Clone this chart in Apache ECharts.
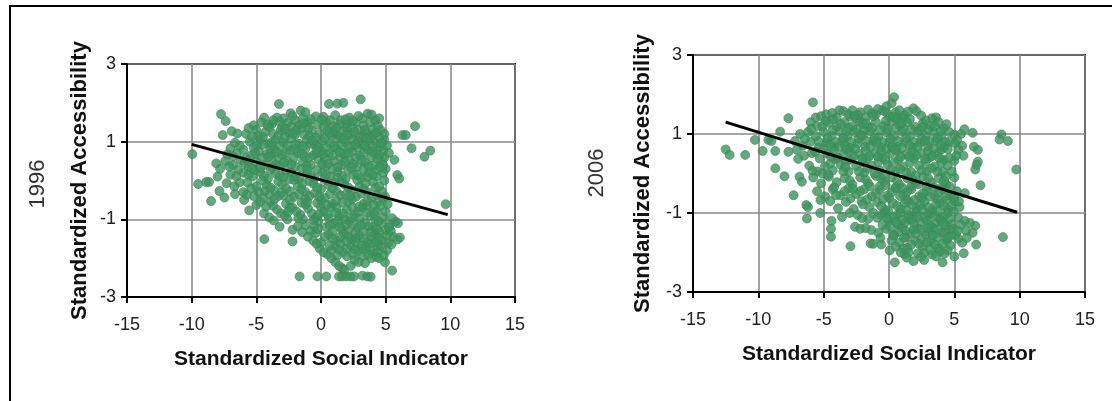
<!DOCTYPE html>
<html>
<head>
<meta charset="utf-8">
<script src="https://cdn.jsdelivr.net/npm/echarts@6/dist/echarts.min.js"></script>
<style>
html,body{margin:0;padding:0;background:#fff;}
#c{width:1112px;height:401px;}
</style>
</head>
<body>
<div id="c"></div>
<script>
// ---- data ----
const xTicks = [-15, -10, -5, 0, 5, 10, 15];
const yTicks = [-3, -1, 1, 3];
const xName = 'Standardized Social Indicator';
const yName = 'Standardized Accessibility';
const yearLabels = ['1996', '2006'];

const fit1996 = [[-10, 0.93], [9.8, -0.88]];
const fit2006 = [[-12.5, 1.3], [9.8, -0.98]];

const pts1996 = [
[-3.25,1.97],[0.62,1.97],[1.26,1.98],[1.73,2.0],[3.07,2.09],
[-7.73,1.71],[-1.57,1.8],[-1.2,1.76],[-2.35,1.73],[3.6,1.72],[3.9,1.7],[-0.4,1.65],[1.1,1.68],[2.2,1.62],[-4.4,1.62],[-2.9,1.6],
[-7.37,1.53],[-4.6,1.5],[-3.8,1.45],[-3.2,1.52],[-2.6,1.48],[-2.0,1.55],[-1.7,1.42],[-1.0,1.5],[-0.3,1.44],[0.4,1.5],[0.9,1.4],[1.5,1.55],[2.0,1.45],[2.7,1.5],[3.3,1.42],[3.8,1.5],[4.2,1.55],[4.4,1.4],[-5.2,1.42],[-2.3,1.4],
[-7.6,1.17],[-6.9,1.27],[-6.47,1.21],[-5.8,1.2],[-5.0,1.3],[-4.3,1.25],[-3.7,1.2],[-3.1,1.3],[-2.5,1.22],[-1.9,1.3],[-1.3,1.18],[-0.7,1.28],[-0.1,1.2],[0.5,1.3],[1.1,1.2],[1.7,1.28],[2.3,1.18],[2.9,1.3],[3.5,1.22],[4.1,1.18],[4.6,1.3],[6.3,1.17],[6.55,1.17],[7.27,1.4],[-4.0,1.38],[-1.0,1.35],[2.0,1.35],[3.0,1.12],
[-5.5,1.0],[-4.7,1.05],[-4.1,0.95],[-3.5,1.05],[-2.9,0.98],[-2.3,1.08],[-1.7,0.95],[-1.1,1.05],[-0.5,0.92],[0.1,1.02],[0.7,0.95],[1.3,1.08],[1.9,0.97],[2.5,1.05],[3.1,0.93],[3.7,1.03],[4.3,0.95],[4.9,1.05],
[-9.95,0.68],[-7.0,0.83],[-6.5,0.7],[-6.0,0.79],[-5.4,0.65],[-4.8,0.75],[-4.2,0.68],[-3.6,0.8],[-3.0,0.66],[-2.4,0.78],[-1.8,0.7],[-1.2,0.82],[-0.6,0.65],[0.0,0.77],[0.6,0.7],[1.2,0.83],[1.8,0.68],[2.4,0.76],[3.0,0.64],[3.6,0.8],[4.2,0.7],[4.8,0.78],[7.0,0.83],[8.0,0.61],[8.45,0.77],[5.67,0.53],
[-8.1,0.44],[-7.4,0.5],[-6.8,0.4],[-6.2,0.52],[-5.6,0.35],[-5.0,0.48],[-4.4,0.4],[-3.8,0.52],[-3.2,0.38],[-2.6,0.5],[-2.0,0.36],[-1.4,0.48],[-0.8,0.4],[-0.2,0.53],[0.4,0.37],[1.0,0.5],[1.6,0.4],[2.2,0.52],[2.8,0.35],[3.4,0.47],[4.0,0.38],[4.6,0.5],[5.0,0.3],
[-9.5,-0.09],[-8.87,-0.04],[-8.66,-0.04],[-7.3,-0.07],[-6.3,-0.05],[-7.0,0.15],[-6.0,0.2],[-5.3,0.1],[-4.7,0.22],[-4.1,0.05],[-3.5,0.18],[-2.9,0.08],[-2.3,0.2],[-1.7,0.03],[-1.1,0.16],[-0.5,0.06],[0.1,0.2],[0.7,0.1],[1.3,0.22],[1.9,0.04],[2.5,0.15],[3.1,0.07],[3.7,0.2],[4.3,0.1],[4.8,0.2],[5.9,0.14],[6.05,0.05],
[-7.47,-0.44],[-6.65,-0.35],[-5.95,-0.5],[-5.4,-0.2],[-4.8,-0.3],[-4.2,-0.12],[-3.6,-0.25],[-3.0,-0.1],[-2.4,-0.28],[-1.8,-0.15],[-1.2,-0.3],[-0.6,-0.08],[0.0,-0.22],[0.6,-0.12],[1.2,-0.28],[1.8,-0.1],[2.4,-0.25],[3.0,-0.15],[3.6,-0.3],[4.2,-0.18],[4.7,-0.28],
[-8.5,-0.53],[-5.0,-0.63],[-4.5,-0.45],[-3.9,-0.55],[-3.3,-0.4],[-2.7,-0.6],[-2.1,-0.42],[-1.5,-0.57],[-0.9,-0.4],[-0.3,-0.58],[0.3,-0.45],[0.9,-0.6],[1.5,-0.38],[2.1,-0.55],[2.7,-0.42],[3.3,-0.6],[3.9,-0.45],[4.4,-0.55],[9.64,-0.61],
[-4.4,-0.85],[-4.0,-0.95],[-3.4,-0.75],[-2.8,-0.9],[-2.2,-0.7],[-1.6,-0.88],[-1.0,-0.72],[-0.4,-0.95],[0.2,-0.8],[0.8,-0.68],[1.4,-0.92],[2.0,-0.75],[2.6,-0.88],[3.2,-0.7],[3.8,-0.9],[4.3,-0.78],[4.8,-0.95],[5.5,-0.97],
[-3.2,-1.19],[-0.2,-1.05],[0.4,-1.2],[1.0,-1.1],[1.6,-1.25],[2.2,-1.05],[2.8,-1.22],[3.4,-1.08],[4.0,-1.2],[4.6,-1.1],[5.0,-1.28],[5.78,-1.06],[5.95,-1.1],[-1.2,-1.15],[-0.8,-1.3],[-2.2,-1.27],
[-4.38,-1.51],[-2.2,-1.57],[-1.0,-1.45],[0.0,-1.6],[0.6,-1.4],[1.2,-1.55],[1.8,-1.38],[2.4,-1.52],[3.0,-1.42],[3.6,-1.58],[4.2,-1.4],[4.7,-1.55],[5.6,-1.45],[5.9,-1.52],[6.1,-1.47],
[-0.1,-1.75],[0.5,-1.9],[1.1,-1.7],[1.7,-1.85],[2.3,-1.68],[2.9,-1.82],[3.5,-1.72],[4.1,-1.88],[4.6,-1.7],[5.1,-1.8],
[0.8,-2.0],[1.4,-2.2],[1.65,-2.26],[1.8,-2.3],[3.4,-2.13],[4.95,-2.11],[5.5,-2.32],[2.6,-2.05],[3.9,-2.0],
[-1.65,-2.47],[-0.28,-2.47],[0.41,-2.47],[1.39,-2.47],[1.65,-2.47],[1.96,-2.47],[2.29,-2.47],[2.55,-2.47],[3.2,-2.45],[3.58,-2.47],[3.84,-2.48],
[-3.4,1.62],[-2.2,1.66],[-0.8,1.58],[0.2,1.64],[1.4,1.45],[2.4,1.38],[3.2,1.6],[4.0,1.32],
[-4.5,1.12],[-3.3,1.15],[-2.0,1.18],[-0.4,1.1],[0.8,1.15],[2.6,1.25],[3.8,1.1],[4.5,1.12],
[-5.2,0.85],[-3.9,0.85],[-2.6,0.9],[-1.4,0.88],[-0.2,0.85],[1.0,0.88],[2.2,0.86],[3.4,0.88],[4.6,0.88],
[-5.8,0.58],[-4.5,0.58],[-3.3,0.6],[-2.1,0.58],[-0.9,0.6],[0.3,0.58],[1.5,0.6],[2.7,0.58],[3.9,0.6],[4.9,0.6],
[-7.8,0.3],[-6.4,0.28],[-5.1,0.27],[-3.9,0.28],[-2.7,0.26],[-1.5,0.3],[-0.3,0.28],[0.9,0.3],[2.1,0.27],[3.3,0.3],[4.4,0.28],
[-6.7,-0.15],[-5.7,-0.05],[-4.5,0.0],[-3.3,-0.02],[-2.1,0.02],[-0.9,-0.02],[0.4,0.0],[1.6,-0.02],[2.8,0.01],[4.0,-0.03],[4.9,0.0],
[-5.2,-0.4],[-4.0,-0.35],[-2.9,-0.38],[-1.7,-0.35],[-0.5,-0.33],[0.7,-0.35],[1.9,-0.36],[3.1,-0.34],[4.3,-0.37],
[-3.7,-0.65],[-2.4,-0.7],[-1.2,-0.62],[0.0,-0.68],[1.2,-0.7],[2.4,-0.68],[3.6,-0.66],[4.6,-0.65],
[-2.6,-1.0],[-1.4,-1.0],[-0.6,-1.02],[0.6,-0.98],[1.8,-1.0],[3.0,-0.98],[4.2,-1.0],[5.3,-1.15],
[-0.4,-1.35],[0.9,-1.32],[2.1,-1.3],[3.3,-1.3],[4.5,-1.33],[5.1,-1.42],
[1.5,-1.62],[2.7,-1.6],[3.9,-1.62],[4.4,-1.68],
[2.0,-1.95],[3.2,-1.95],[4.3,-1.97],
[-3.7,1.55],[-1.4,1.6],[0.7,1.55],[1.9,1.58],[2.9,1.66],[4.5,1.6],
[-3.0,1.38],[-1.5,1.35],[0.2,1.38],[1.2,1.35],[3.4,1.3],[-5.6,1.35],
[-4.9,1.15],[-2.8,1.12],[-0.9,1.15],[0.3,1.1],[1.5,1.12],[2.0,1.18],[3.3,1.12],[4.9,1.2],
[-6.3,0.9],[-4.5,0.92],[-3.2,0.88],[-2.0,0.82],[-0.8,0.95],[0.4,0.85],[1.6,0.9],[2.8,0.85],[4.0,0.86],[5.1,0.9],
[-6.8,0.62],[-5.1,0.7],[-3.9,0.7],[-2.7,0.72],[-1.5,0.68],[-0.3,0.72],[0.9,0.65],[2.1,0.72],[3.3,0.7],[4.5,0.65],
[-7.1,0.36],[-5.9,0.45],[-4.7,0.33],[-3.5,0.4],[-2.3,0.42],[-1.1,0.38],[0.1,0.42],[1.3,0.35],[2.5,0.42],[3.7,0.36],[4.8,0.4],
[-8.0,0.1],[-5.6,0.15],[-4.4,0.12],[-3.2,0.12],[-2.0,0.1],[-0.8,0.12],[0.4,0.15],[1.6,0.12],[2.8,0.15],[4.0,0.14],
[-6.0,-0.3],[-5.0,-0.15],[-3.9,-0.18],[-2.7,-0.2],[-1.5,-0.22],[-0.3,-0.18],[0.9,-0.2],[2.1,-0.18],[3.3,-0.22],[4.5,-0.15],
[-4.7,-0.55],[-3.6,-0.48],[-2.4,-0.5],[-1.2,-0.48],[0.0,-0.5],[1.2,-0.52],[2.4,-0.48],[3.6,-0.52],[4.8,-0.45],
[-3.1,-0.85],[-1.9,-0.8],[-0.7,-0.85],[0.5,-0.88],[1.7,-0.85],[2.9,-0.8],[4.1,-0.85],[5.0,-0.8],
[-1.8,-1.18],[-0.5,-1.18],[0.7,-1.15],[1.3,-1.05],[1.9,-1.15],[2.5,-1.12],[3.1,-1.15],[3.7,-1.18],[4.3,-1.25],[5.4,-1.3],
[-0.6,-1.55],[0.3,-1.45],[0.9,-1.5],[1.5,-1.45],[2.1,-1.45],[2.7,-1.48],[3.3,-1.5],[3.9,-1.45],[4.5,-1.48],[5.2,-1.6],
[0.2,-1.85],[0.8,-1.78],[1.4,-1.78],[2.0,-1.75],[2.6,-1.78],[3.2,-1.75],[3.8,-1.8],[4.4,-1.85],
[1.1,-2.1],[2.3,-2.2],[2.9,-2.1],[4.5,-2.0],
[-4.15,1.43],[-2.75,1.33],[-1.35,1.47],[0.05,1.57],[0.95,1.27],[2.45,1.53],[3.55,1.08],[4.25,1.23],
[-5.35,1.13],[-3.85,0.97],[-2.15,1.21],[-0.65,1.03],[0.65,1.21],[1.75,1.07],[2.85,1.01],[4.65,0.97],
[-6.65,0.97],[-4.95,0.91],[-3.45,0.73],[-1.95,0.93],[-0.35,0.79],[1.45,0.73],[2.65,0.93],[3.95,0.75],[5.25,0.71],
[-7.25,0.67],[-5.65,0.51],[-4.05,0.61],[-2.85,0.47],[-1.25,0.61],[0.15,0.67],[1.85,0.49],[3.15,0.53],[4.35,0.57],
[-6.55,0.11],[-5.35,0.31],[-3.75,0.33],[-2.45,0.03],[-1.05,0.27],[0.55,0.43],[1.25,0.07],[2.35,0.33],[3.55,0.09],[4.55,0.35],
[-7.85,-0.27],[-5.75,-0.37],[-4.35,-0.27],[-3.05,-0.31],[-1.45,-0.07],[-0.15,-0.41],[1.05,-0.05],[2.25,-0.39],[3.45,-0.07],[4.95,-0.41],
[-5.55,-0.77],[-4.25,-0.67],[-2.55,-0.81],[-1.05,-0.55],[0.45,-0.63],[1.65,-0.57],[2.95,-0.67],[4.05,-0.63],[5.15,-0.61],
[-3.65,-1.03],[-1.75,-0.97],[-0.15,-0.87],[1.15,-0.83],[2.35,-0.95],[3.55,-0.83],[4.45,-1.05],
[-1.45,-1.33],[-0.25,-1.25],[1.45,-1.19],[2.65,-1.35],[3.85,-1.33],[5.25,-1.21],
[-0.35,-1.63],[0.65,-1.67],[1.95,-1.57],[3.15,-1.67],[4.25,-1.59],[5.45,-1.65],
[1.25,-1.93],[2.45,-1.89],[3.65,-1.91],[4.85,-1.93]
];

const pts2006 = [
[0.38,1.93],[0.2,1.78],[-0.2,1.7],[-5.82,1.8],[1.87,1.65],[2.1,1.58],
[-3.5,1.58],[-2.8,1.6],[-2.2,1.55],[-1.6,1.62],[-1.0,1.5],[-0.5,1.6],[0.5,1.55],[1.2,1.48],[-3.0,1.45],[-4.0,1.42],[-7.7,1.4],[-5.6,1.42],[3.3,1.4],[3.6,1.42],[-1.8,1.42],[0.0,1.45],
[-6.0,1.3],[-5.5,1.2],[-4.6,1.28],[-4.0,1.18],[-3.4,1.3],[-2.8,1.2],[-2.2,1.32],[-1.6,1.18],[-1.0,1.3],[-0.4,1.2],[0.2,1.32],[0.8,1.22],[1.4,1.3],[2.0,1.18],[2.6,1.28],[3.2,1.2],[3.8,1.3],[4.2,1.15],[-4.3,1.38],[-2.5,1.4],[1.0,1.4],
[-8.33,1.06],[-6.8,1.0],[-6.2,1.05],[-5.6,0.95],[-5.0,1.05],[-4.4,0.95],[-3.8,1.06],[-3.2,0.94],[-2.6,1.04],[-2.0,0.96],[-1.4,1.06],[-0.8,0.92],[-0.2,1.04],[0.4,0.95],[1.0,1.06],[1.6,0.94],[2.2,1.04],[2.8,0.95],[3.4,1.05],[4.0,0.95],[4.6,1.05],[5.0,0.98],[5.5,1.0],[5.77,1.12],[6.4,1.03],[8.6,0.99],[8.46,0.86],[9.1,0.82],
[-10.26,0.85],[-9.23,0.85],[-9.0,0.82],[-7.2,0.82],[-6.6,0.7],[-6.0,0.8],[-5.4,0.65],[-4.8,0.78],[-4.2,0.68],[-3.6,0.82],[-3.0,0.65],[-2.4,0.76],[-1.8,0.68],[-1.2,0.82],[-0.6,0.66],[0.0,0.78],[0.6,0.68],[1.2,0.8],[1.8,0.65],[2.4,0.78],[3.0,0.68],[3.6,0.82],[4.2,0.66],[4.6,0.8],[5.6,0.7],[6.5,0.68],[6.8,0.6],[5.3,0.6],
[-12.5,0.61],[-12.2,0.47],[-11.0,0.47],[-9.67,0.57],[-8.7,0.57],[-7.7,0.55],[-7.05,0.6],[-6.5,0.45],[-5.9,0.52],[-5.3,0.38],[-4.7,0.5],[-4.1,0.36],[-3.5,0.48],[-2.9,0.35],[-2.3,0.5],[-1.7,0.38],[-1.1,0.52],[-0.5,0.4],[0.1,0.5],[0.7,0.35],[1.3,0.48],[1.9,0.38],[2.5,0.52],[3.1,0.4],[3.7,0.5],[4.2,0.35],[5.7,0.45],[6.8,0.3],[5.0,0.32],
[-8.7,0.13],[-6.1,0.2],[-5.5,0.05],[-4.9,0.18],[-4.3,0.08],[-3.7,0.22],[-3.1,0.05],[-2.5,0.18],[-1.9,0.02],[-1.3,0.2],[-0.7,0.08],[-0.1,0.22],[0.5,0.05],[1.1,0.18],[1.7,0.04],[2.3,0.2],[2.9,0.06],[3.5,0.18],[4.1,0.05],[4.5,0.2],[6.6,0.1],[9.74,0.1],[6.7,0.22],
[-8.0,-0.07],[-6.85,-0.08],[-6.67,-0.21],[-5.8,-0.1],[-5.2,-0.25],[-4.6,-0.08],[-4.0,-0.22],[-3.4,-0.12],[-2.8,-0.28],[-2.2,-0.1],[-1.6,-0.25],[-1.0,-0.06],[-0.4,-0.2],[0.2,-0.1],[0.8,-0.28],[1.4,-0.12],[2.0,-0.25],[2.6,-0.08],[3.2,-0.22],[3.8,-0.12],[4.4,-0.28],[5.0,-0.1],[7.0,-0.3],
[-7.3,-0.55],[-5.5,-0.45],[-4.9,-0.58],[-4.3,-0.4],[-3.7,-0.55],[-3.1,-0.38],[-2.5,-0.52],[-1.9,-0.4],[-1.3,-0.58],[-0.7,-0.42],[-0.1,-0.56],[0.5,-0.38],[1.1,-0.52],[1.7,-0.4],[2.3,-0.58],[2.9,-0.45],[3.5,-0.56],[4.1,-0.4],[4.7,-0.55],[5.2,-0.45],[5.8,-0.5],
[-6.33,-0.8],[-6.2,-0.85],[-5.26,-1.0],[-4.5,-0.7],[-3.9,-0.88],[-3.3,-0.72],[-2.7,-0.9],[-2.1,-0.7],[-1.5,-0.85],[-0.9,-0.72],[-0.3,-0.92],[0.3,-0.75],[0.9,-0.9],[1.5,-0.7],[2.1,-0.88],[2.7,-0.72],[3.3,-0.92],[3.9,-0.75],[4.5,-0.9],[5.0,-0.7],[4.8,-0.82],
[-6.28,-1.14],[-4.4,-1.2],[-3.6,-1.1],[-3.0,-1.0],[-2.4,-1.05],[-1.6,-1.15],[-0.6,-1.05],[0.0,-1.2],[0.6,-1.05],[1.2,-1.25],[1.8,-1.08],[2.4,-1.22],[3.0,-1.05],[3.6,-1.25],[4.2,-1.1],[4.8,-1.28],[5.3,-1.12],[5.8,-1.2],[6.2,-1.25],[6.6,-1.32],
[-4.44,-1.4],[-4.44,-1.6],[-2.6,-1.35],[-2.2,-1.4],[-1.8,-1.38],[-0.8,-1.5],[-0.2,-1.4],[0.4,-1.55],[1.0,-1.38],[1.6,-1.52],[2.2,-1.4],[2.8,-1.55],[3.4,-1.38],[4.0,-1.5],[4.6,-1.42],[5.1,-1.56],[5.9,-1.45],[6.4,-1.5],[8.72,-1.61],
[-2.95,-1.84],[-1.41,-1.77],[-1.2,-1.78],[-0.6,-1.8],[0.8,-1.75],[1.4,-1.88],[2.0,-1.7],[2.6,-1.85],[3.2,-1.72],[3.8,-1.88],[4.4,-1.7],[5.6,-1.75],[6.67,-1.8],[1.1,-1.9],
[0.44,-2.25],[1.87,-2.22],[2.69,-2.19],[4.1,-2.25],[5.0,-2.1],[5.72,-2.02],[2.2,-2.02],[3.3,-2.05],[1.2,-2.05],[3.9,-1.98],
[-3.1,1.5],[-1.3,1.52],[0.6,1.38],[-2.0,1.25],[-0.1,1.12],[1.7,1.12],[3.0,1.12],
[-4.7,0.88],[-3.5,0.9],[-2.3,0.88],[-1.1,0.9],[0.1,0.88],[1.3,0.9],[2.5,0.88],[3.7,0.9],
[-4.2,0.58],[-3.0,0.55],[-1.8,0.57],[-0.6,0.55],[0.6,0.57],[1.8,0.55],[3.0,0.57],[4.0,0.6],
[-3.3,0.3],[-2.0,0.28],[-0.8,0.3],[0.4,0.28],[1.6,0.27],[2.8,0.3],[4.0,0.28],
[-0.7,-0.32],[0.5,-0.35],[1.7,-0.33],[2.9,-0.35],[4.1,-0.32],
[0.0,-0.62],[1.3,-0.65],[2.5,-0.62],[3.7,-0.65],[4.4,-0.66],
[-0.3,-1.0],[0.9,-1.0],[2.1,-0.98],[3.3,-1.0],[4.5,-1.0],[1.5,-1.15],[2.7,-1.12],[3.9,-1.15],
[0.7,-1.3],[1.9,-1.28],[3.1,-1.3],[4.3,-1.32],[1.3,-1.62],[2.5,-1.65],[3.7,-1.62],[4.6,-1.6],
[-4.8,1.5],[-3.8,1.6],[-2.4,1.48],[-1.2,1.45],[-0.2,1.55],[0.8,1.6],[1.6,1.38],[2.8,1.35],[-5.2,1.45],
[-5.1,1.2],[-4.3,1.1],[-3.7,1.25],[-3.1,1.15],[-2.5,1.12],[-1.9,1.1],[-1.3,1.15],[-0.7,1.1],[0.5,1.15],[1.1,1.12],[2.3,1.1],[3.5,1.2],[4.4,1.25],
[-5.4,0.82],[-4.1,0.8],[-2.9,0.8],[-1.7,0.82],[-0.5,0.8],[0.7,0.82],[1.9,0.8],[3.1,0.82],[4.3,0.8],[5.2,0.85],
[-5.0,0.62],[-3.8,0.68],[-2.6,0.62],[-1.4,0.68],[-0.2,0.62],[1.0,0.65],[2.2,0.68],[3.4,0.62],[4.5,0.62],
[-4.5,0.25],[-3.9,0.4],[-2.7,0.42],[-1.5,0.44],[-0.3,0.35],[0.9,0.42],[2.1,0.45],[3.3,0.44],[4.6,0.4],
[-5.1,0.0],[-3.5,0.05],[-2.3,0.05],[-1.1,0.0],[0.1,0.08],[1.3,0.03],[2.5,0.08],[3.7,0.05],[4.8,0.05],
[-4.2,-0.35],[-3.0,-0.18],[-1.8,-0.15],[-0.6,-0.12],[0.6,-0.18],[1.8,-0.15],[3.0,-0.12],[4.2,-0.18],
[-3.4,-0.45],[-2.2,-0.45],[-1.0,-0.5],[0.2,-0.48],[1.4,-0.46],[2.6,-0.5],[3.8,-0.48],[5.0,-0.6],
[-2.0,-0.78],[-0.6,-0.82],[0.6,-0.82],[1.2,-0.75],[1.8,-0.8],[2.4,-0.8],[3.0,-0.85],[3.6,-0.78],[4.2,-0.82],[5.4,-0.85],
[-1.2,-1.0],[-0.9,-1.12],[0.3,-1.12],[1.0,-1.18],[1.5,-1.05],[2.2,-1.1],[2.9,-1.2],[3.5,-1.08],[4.0,-1.2],[4.6,-1.15],[5.5,-1.3],
[-0.5,-1.3],[0.1,-1.35],[0.7,-1.48],[1.3,-1.45],[1.9,-1.42],[2.5,-1.42],[3.1,-1.48],[3.7,-1.42],[4.3,-1.5],[4.9,-1.4],
[0.2,-1.7],[0.5,-1.85],[1.7,-1.8],[2.3,-1.78],[2.9,-1.75],[3.5,-1.8],[4.1,-1.78],[4.7,-1.82],[5.3,-1.65],
[0.9,-2.0],[1.5,-2.0],[2.7,-2.0],[3.6,-2.1],[4.5,-1.95],
[-4.35,1.53],[-2.65,1.45],[-0.85,1.63],[0.35,1.43],[1.45,1.57],[2.45,1.47],[-5.95,1.13],
[-4.85,1.33],[-3.25,1.07],[-1.75,1.27],[-0.25,1.33],[0.95,1.27],[2.55,1.17],[3.95,1.07],
[-6.45,0.87],[-4.55,0.73],[-3.35,0.71],[-2.15,0.97],[-0.95,0.77],[0.25,0.67],[1.55,0.71],[2.75,0.83],[3.95,0.73],[5.05,0.77],
[-6.95,0.37],[-5.65,0.55],[-4.45,0.43],[-3.25,0.61],[-2.05,0.37],[-0.85,0.43],[0.45,0.61],[1.55,0.43],[2.75,0.37],[3.85,0.39],[5.15,0.45],
[-5.85,0.07],[-4.65,-0.03],[-3.35,0.17],[-1.65,0.13],[-0.45,-0.03],[0.85,0.11],[2.05,-0.05],[3.25,0.13],[4.35,-0.07],
[-5.25,-0.67],[-4.05,-0.55],[-2.75,-0.39],[-1.45,-0.33],[-0.25,-0.29],[1.05,-0.37],[2.25,-0.27],[3.45,-0.35],[4.65,-0.33],
[-2.95,-0.63],[-1.65,-0.65],[-0.45,-0.65],[0.85,-0.57],[1.95,-0.67],[3.15,-0.59],[4.35,-0.57],[5.35,-0.71],
[-2.05,-1.13],[-0.05,-0.95],[1.35,-0.93],[2.55,-0.91],[3.75,-0.95],[4.95,-0.97],
[-1.35,-1.43],[-0.15,-1.13],[0.55,-1.23],[1.75,-1.17],[2.95,-1.37],[4.15,-1.25],[5.25,-1.45],
[-0.65,-1.63],[0.35,-1.57],[1.15,-1.63],[2.05,-1.53],[3.35,-1.57],[4.45,-1.63],[5.95,-1.63],
[0.05,-1.95],[1.35,-2.13],[2.45,-2.11],[3.15,-1.93],[4.25,-2.03]
];

// ---- chart ----
const FONT = 'Liberation Sans, Arial, sans-serif';
const grids = [
  {left: 127, top: 64, width: 388, height: 233},
  {left: 693, top: 55, width: 392, height: 237}
];

function xAx(i) {
  return {
    gridIndex: i, type: 'value', min: xTicks[0], max: xTicks[xTicks.length - 1], interval: 5,
    name: xName, nameLocation: 'middle', nameGap: 52,
    nameTextStyle: {fontFamily: FONT, fontSize: 21, fontWeight: 'bold', color: '#111'},
    axisLine: {show: true, onZero: false, lineStyle: {color: '#000', width: 2}},
    axisTick: {show: true, inside: false, length: 6, lineStyle: {color: '#000', width: 2}},
    axisLabel: {fontFamily: FONT, fontSize: 18, color: '#222', margin: 19},
    splitLine: {show: true, lineStyle: {color: '#8a8a8a', width: 1.6}}
  };
}
function yAx(i, gap) {
  return {
    gridIndex: i, type: 'value', min: yTicks[0], max: yTicks[yTicks.length - 1], interval: 2,
    name: yName, nameLocation: 'middle', nameGap: gap,
    nameTextStyle: {fontFamily: FONT, fontSize: 22, fontWeight: 'bold', color: '#111'},
    axisLine: {show: true, onZero: false, lineStyle: {color: '#000', width: 2}},
    axisTick: {show: true, inside: false, length: 6, lineStyle: {color: '#000', width: 2}},
    axisLabel: {fontFamily: FONT, fontSize: 18, color: '#222', margin: 11},
    splitLine: {show: true, lineStyle: {color: '#8a8a8a', width: 1.6}}
  };
}

const scatterStyle = {color: '#34995b', borderColor: '#55775c', borderWidth: 0.8};

const option = {
  animation: false,
  backgroundColor: '#fff',
  grid: grids.map(g => Object.assign({show: true, borderColor: '#000', borderWidth: 2, backgroundColor: 'transparent'}, g)),
  xAxis: [xAx(0), xAx(1)],
  yAxis: [yAx(0, 36), yAx(1, 39)],
  series: [
    {type: 'scatter', xAxisIndex: 0, yAxisIndex: 0, data: pts1996, symbolSize: 9, itemStyle: scatterStyle},
    {type: 'line', xAxisIndex: 0, yAxisIndex: 0, data: fit1996, symbol: 'none', lineStyle: {color: '#000', width: 3}, z: 5},
    {type: 'scatter', xAxisIndex: 1, yAxisIndex: 1, data: pts2006, symbolSize: 9, itemStyle: scatterStyle},
    {type: 'line', xAxisIndex: 1, yAxisIndex: 1, data: fit2006, symbol: 'none', lineStyle: {color: '#000', width: 3}, z: 5}
  ],
  graphic: [
    {type: 'line', shape: {x1: 9, y1: 6, x2: 1112, y2: 6}, style: {stroke: '#000', lineWidth: 2}},
    {type: 'line', shape: {x1: 10, y1: 5, x2: 10, y2: 401}, style: {stroke: '#000', lineWidth: 2}},
    {type: 'text', x: 38, y: 184, rotation: Math.PI / 2, style: {text: yearLabels[0], font: '22px ' + FONT, fill: '#333', align: 'center', verticalAlign: 'middle'}},
    {type: 'text', x: 597, y: 173, rotation: Math.PI / 2, style: {text: yearLabels[1], font: '22px ' + FONT, fill: '#333', align: 'center', verticalAlign: 'middle'}}
  ]
};

const chart = echarts.init(document.getElementById('c'), null, {renderer: 'canvas'});
chart.setOption(option);
</script>
</body>
</html>
